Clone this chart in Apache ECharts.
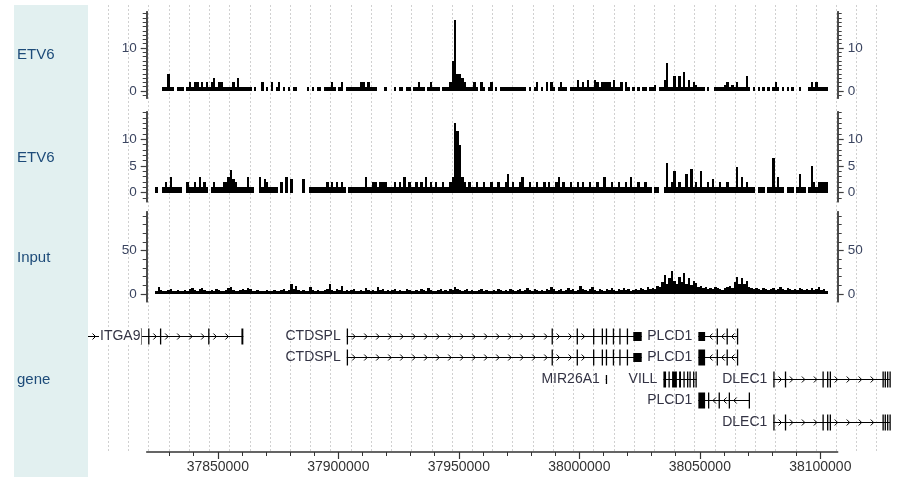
<!DOCTYPE html>
<html><head><meta charset="utf-8">
<script src="https://cdn.jsdelivr.net/npm/echarts@6/dist/echarts.min.js"></script>
<style>html,body{margin:0;padding:0;background:#fff}#chart{width:900px;height:477px}</style>
</head><body><div id="chart"></div>
<script>
// ---------------- data ----------------
const binStart = 37824000;   // genomic start of first bin (bp)
const binSize = 1000;        // bp per bin

const etv6A = [
 0,0,0,1,1,4,1,1,0,1, 1,1,0,1,2,1,2,2,1,2, 1,2,1,2,3,1,2,2,1,1, 1,1,2,1,3,1,1,1,1,1,
 0,1,0,0,2,0,1,0,2,0, 1,2,0,1,0,1,0,1,1,0, 0,0,0,1,0,1,0,1,1,0, 1,1,1,2,1,0,1,2,0,1,
 1,1,1,1,1,2,2,1,2,1, 1,1,0,0,0,1,0,0,0,1, 0,1,1,0,1,1,0,1,1,2, 1,1,0,1,2,1,1,1,0,1,
 1,1,2,7,16.5,4,4,3,2,1, 1,1,2,1,0,2,1,0,1,2, 0,1,0,1,1,1,1,1,1,1, 1,1,1,1,0,1,0,1,2,0,
 1,0,2,0,2,1,0,1,2,1, 1,0,1,1,1,2.5,1,2,1,2.5, 1,1,2.5,2,1,2,2,2,2,1, 2.5,1,1,2,0,2,1,0,1,0,
 1,0,1,1,0,1,1,1.5,0,1, 1,2.5,6.5,1,1,3.5,1,3.5,1,4.5, 1,2.5,1,2,1.5,1,1,1,0,1, 0,0,1,1,1,1,1.5,2,1,1.5,
 1,2,1,1,1,3.5,1,0,1,0, 1,0,1,0,1,0,1,2,1,0, 1,0,1,0,1,0,0,1,0,0, 0,1,2,1,2,1,1,1,1
];
const etv6B = [
 1,0,0,1,2,1,3,1,1,1, 1,0,0,2,1,1,2,1,3,1, 2,1,0,1,2,1,1,1,2,2, 3,4.2,2.5,2,1,1,1,1,3,1,
 1,0,0,3,1,2.5,2,1,1,1, 1,0,2,0,3,0,2.5,0,0,0, 0,2.5,0,0,1,1,1,1,1,1, 1,2,1,2,1,2,1,2,1,0,
 1,1,1,1,1,1,1,3,1,1, 2,2,1,2,2,2,1,1,1,2, 1,2,1,3,1,2,1,1,2,1, 2,1,3,1,2,1,2,1,1,2,
 1,1,2,3,13,11.5,9,3,2,1, 2,1,1,2,1,1,2,1,1,2, 1,1,2,1,1,2,3.5,1,2,1, 1,2,3,1,1,2,1,1,2,1,
 1,2,1,2,1,1,2,3,1,2, 1,1,2,1,1,2,1,2,1,1, 2,1,1,2,1,1,3,1,1,2, 1,1,2,1,1,2,1,3,1,1,
 2,1,1,2,1,1,0,1,1,0, 0,1,5.5,1,2,4,1,2,1,1, 3.5,1,4.5,1,2,1,4,1,1,2, 1,2.5,1,1,2,1,1,2,1,1,
 1,4.8,1,3,1,2,1,1,1,0, 1,1,1,0,1,1,6.5,1,3,1, 1,0,1,1,1,0,1,3.5,1,1, 0,1,5,2,1,2,2,2,2
];
const inputSignal = [
 4,8,5,3,4,5,6,4,3,5, 4,3,5,4,6,7,5,4,6,7, 5,4,3,5,4,6,5,4,3,5, 7,8,5,4,3,5,6,5,7,6,
 4,3,5,4,3,4,5,3,4,5, 4,3,5,6,4,5,11,6,9,5, 4,5,3,4,8,5,4,5,3,4, 5,6,11,5,4,6,5,9,4,5,
 4,5,6,4,3,5,4,7,5,4, 5,4,8,5,6,4,5,4,5,6, 4,5,3,4,6,5,4,3,5,4, 6,5,4,7,5,4,3,5,6,4,
 5,4,6,5,8,6,5,4,5,6, 4,5,3,4,5,6,4,5,4,3, 5,4,6,5,4,5,4,6,5,4, 5,6,4,5,7,5,4,6,5,4,
 5,4,6,5,8,6,4,5,6,4, 5,7,5,6,4,5,9,6,5,4, 6,8,5,4,6,5,4,6,5,7, 5,4,6,5,7,5,6,4,5,6,
 5,7,6,5,8,6,7,6,9,8, 14,22,12,18,26,15,12,20,14,24, 12,18,10,15,13,8,9,7,8,6, 7,6,8,7,6,5,7,8,9,7,
 14,20,12,18,11,15,8,7,6,7, 6,5,7,6,5,6,7,5,6,8, 6,5,7,6,5,6,5,7,6,5, 6,5,7,5,6,8,5,6,4
];

const trackTitles = ['ETV6', 'ETV6', 'Input', 'gene'];

const etv6AMajor = [0, 10];
const etv6AMinor = [-1,1,2,3,4,5,6,7,8,9,11,12,13,14,15,16,17,18];
const etv6BMajor = [0, 5, 10];
const etv6BMinor = [-1,1,2,3,4,6,7,8,9,11,12,13,14,15];
const inputMajor = [0, 50];
const inputMinor = [10,20,30,40,60,70,80,90];

const axisMajor = [37850000, 37900000, 37950000, 38000000, 38050000, 38100000];
const axisMajorLabels = ['37850000', '37900000', '37950000', '38000000', '38050000', '38100000'];
const axisMinor = [37830000,37840000,37860000,37870000,37880000,37890000,37910000,37920000,37930000,37940000,
  37960000,37970000,37980000,37990000,38010000,38020000,38030000,38040000,38060000,38070000,38080000,38090000];

const geneNames   = ['ITGA9','CTDSPL','PLCD1','CTDSPL','PLCD1','MIR26A1','VILL','DLEC1','PLCD1','DLEC1'];
const geneRows    = [0,0,0,1,1,2,2,2,3,4];
const geneStrands = [1,1,-1,1,-1,1,1,1,-1,1];
const geneStarts  = [37790000,37903500,38049400,37903500,38049400,38011000,38034900,38080500,38049400,38080500];
const geneEnds    = [37860600,38025900,38065600,38025900,38065600,38011200,38048700,38128900,38070500,38128900];
const ctdsplExons = [[37903500,37903900,'cds'],[37988500,37988700,'cds'],[37998900,37999100,'cds'],[38005700,38005900,'cds'],
  [38009300,38009500,'cds'],[38011000,38011200,'cds'],[38013900,38014100,'cds'],[38016600,38016800,'cds'],
  [38019700,38019900,'cds'],[38022400,38025900,'utr']];
const dlec1Exons = [[38080500,38080800,'cds'],[38085300,38085500,'cds'],[38100900,38101100,'cds'],[38102800,38103000,'cds'],
  [38103900,38104100,'cds'],[38125800,38126000,'cds'],[38126700,38126900,'cds'],[38127700,38127900,'cds'],[38128700,38128900,'cds']];
const geneExons = [
  [[37818000,37818300,'cds'],[37821100,37821400,'cds'],[37826000,37826300,'cds'],[37846000,37846300,'cds'],[37859800,37860600,'cds']],
  ctdsplExons,
  [[38049400,38052200,'utr'],[38057000,38057200,'cds'],[38061100,38061300,'cds'],[38065400,38065600,'cds']],
  ctdsplExons,
  [[38049400,38052200,'cds'],[38057000,38057200,'cds'],[38061100,38061300,'cds'],[38065400,38065600,'cds']],
  [[38011000,38011200,'utr']],
  [[38034900,38036000,'cds'],[38037000,38037400,'cds'],[38038500,38040500,'cds'],[38041400,38042200,'cds'],[38043200,38043600,'cds'],
   [38044700,38045100,'cds'],[38045700,38046100,'cds'],[38047200,38047600,'cds'],[38048200,38048700,'cds']],
  dlec1Exons,
  [[38049400,38052200,'cds'],[38053400,38053600,'cds'],[38057800,38058000,'cds'],[38062000,38062200,'cds'],[38070300,38070500,'cds']],
  dlec1Exons
];

// ---------------- layout ----------------
const FONT = '"Liberation Sans", Arial, Helvetica, sans-serif';
const viewStart = 37796972, viewEnd = 38130997;   // full panel (x 90..895)
const axisStart = 37820497, axisEnd = 38107221;   // axis span (x 146.7..837.7)
const AX_LEFT = 146.7, AX_W = 691;
const axisColor = '#404040';
const tickLabelColor = '#3b4560';

function barRenderer(params, api) {
  const x0 = api.value(0), v = api.value(1);
  const p0 = api.coord([x0, 0]);
  const p1 = api.coord([x0 + binSize, v]);
  const xa = Math.round(p0[0]), xb = Math.round(p1[0]);
  const yb = Math.round(p0[1]), yt = Math.round(p1[1]);
  return {type: 'rect', shape: {x: xa, y: yt, width: Math.max(1, xb - xa), height: Math.max(1, yb - yt)},
          style: {fill: '#000'}};
}
function binData(arr) {
  const out = [];
  arr.forEach((v, i) => { if (v > 0) out.push([binStart + i * binSize, v]); });
  return out;
}
function yAxesFor(grid, min, max, majors, minors) {
  const base = {type: 'value', gridIndex: grid, min: min, max: max, splitLine: {show: false},
    axisLine: {show: true, onZero: false, lineStyle: {color: axisColor, width: 1.5}}};
  const mk = (pos) => [
    Object.assign({}, base, {position: pos,
      axisTick: {show: true, customValues: majors, length: 6, lineStyle: {color: axisColor, width: 1.2}},
      axisLabel: {show: true, customValues: majors, margin: 10, fontSize: 13.5, color: tickLabelColor, fontFamily: FONT}}),
    Object.assign({}, base, {position: pos,
      axisTick: {show: true, customValues: minors, length: 4, lineStyle: {color: axisColor, width: 1}},
      axisLabel: {show: false}})
  ];
  return mk('left').concat(mk('right'));
}

function geneRenderer(params, api) {
  const idx = api.value(2);
  const row = geneRows[idx];
  const left = params.coordSys.x;
  const yRaw = api.coord([geneStarts[idx], row])[1];
  const y = Math.round(yRaw) + 0.5;
  let x0 = api.coord([geneStarts[idx], row])[0];
  const x1 = api.coord([geneEnds[idx], row])[0];
  const clipped = x0 < left;
  if (clipped) x0 = left - 2;
  const children = [];
  children.push({type: 'line', shape: {x1: x0, y1: y, x2: x1, y2: y}, style: {stroke: '#000', lineWidth: 1}});
  const ex = geneExons[idx].map(e => [api.coord([e[0], row])[0], api.coord([e[1], row])[0], e[2]]);
  const gaps = [];
  let prev = x0;
  ex.forEach(e => { gaps.push([prev, e[0]]); prev = Math.max(prev, e[1]); });
  gaps.push([prev, x1]);
  const s = geneStrands[idx];
  gaps.forEach(g => {
    if (g[1] - g[0] < 8) return;
    for (let cx = g[0] + 6; cx < g[1] - 3; cx += 12) {
      const pts = s > 0 ? [[cx - 1.5, y - 3], [cx + 1.5, y], [cx - 1.5, y + 3]]
                        : [[cx + 1.5, y - 3], [cx - 1.5, y], [cx + 1.5, y + 3]];
      children.push({type: 'polyline', shape: {points: pts}, style: {stroke: '#000', fill: null, lineWidth: 1}});
    }
  });
  ex.forEach(e => {
    const h = e[2] === 'cds' ? 16 : 9;
    const w = Math.max(e[1] - e[0], 1.3);
    children.push({type: 'rect', shape: {x: e[0], y: y - h / 2, width: w, height: h}, style: {fill: '#000'}});
  });
  const label = clipped
    ? {type: 'text', style: {text: geneNames[idx], x: left + 9, y: y, align: 'left', verticalAlign: 'middle',
        fill: '#333344', fontSize: 14, fontFamily: FONT, backgroundColor: '#fff', padding: [1, 1]}}
    : {type: 'text', style: {text: geneNames[idx], x: x0 - 6, y: y, align: 'right', verticalAlign: 'middle',
        fill: '#333344', fontSize: 14, fontFamily: FONT}};
  children.push(label);
  return {type: 'group', children: children};
}

const chart = echarts.init(document.getElementById('chart'), null, {renderer: 'canvas'});
const gridBase = {containLabel: false, outerBoundsMode: 'none'};
const option = {
  animation: false,
  backgroundColor: '#fff',
  textStyle: {fontFamily: FONT},
  graphic: [
    {type: 'rect', shape: {x: 14, y: 5, width: 74, height: 472}, style: {fill: '#e2f0f0'}, z: -10},
    {type: 'text', x: 17, y: 55, style: {text: trackTitles[0], fontSize: 15, fill: '#1d4b79', verticalAlign: 'middle', fontFamily: FONT}},
    {type: 'text', x: 17, y: 158, style: {text: trackTitles[1], fontSize: 15, fill: '#1d4b79', verticalAlign: 'middle', fontFamily: FONT}},
    {type: 'text', x: 17, y: 258, style: {text: trackTitles[2], fontSize: 15, fill: '#1d4b79', verticalAlign: 'middle', fontFamily: FONT}},
    {type: 'text', x: 17, y: 380, style: {text: trackTitles[3], fontSize: 15, fill: '#1d4b79', verticalAlign: 'middle', fontFamily: FONT}}
  ],
  grid: [
    Object.assign({left: AX_LEFT, width: AX_W, top: 11.7, height: 86.6}, gridBase),
    Object.assign({left: AX_LEFT, width: AX_W, top: 111.7, height: 90}, gridBase),
    Object.assign({left: AX_LEFT, width: AX_W, top: 211.7, height: 90}, gridBase),
    Object.assign({left: 90, width: 805, top: 324.75, height: 107.5}, gridBase),
    Object.assign({left: AX_LEFT, width: AX_W, top: 438, height: 14}, gridBase),
    Object.assign({left: 108.3, width: 768.4, top: 5, height: 446}, gridBase)
  ],
  xAxis: [
    {type: 'value', gridIndex: 0, min: axisStart, max: axisEnd, show: false},
    {type: 'value', gridIndex: 1, min: axisStart, max: axisEnd, show: false},
    {type: 'value', gridIndex: 2, min: axisStart, max: axisEnd, show: false},
    {type: 'value', gridIndex: 3, min: viewStart, max: viewEnd, show: false},
    {type: 'value', gridIndex: 4, min: axisStart, max: axisEnd, position: 'bottom', splitLine: {show: false},
      axisLine: {show: true, onZero: false, lineStyle: {color: '#333', width: 1.5}},
      axisTick: {show: true, customValues: axisMajor, length: 7, lineStyle: {color: '#333', width: 1.2}},
      axisLabel: {show: true, customValues: axisMajor, margin: 8, fontSize: 14, color: '#333', fontFamily: FONT,
        formatter: v => axisMajorLabels[axisMajor.indexOf(v)] || String(v)}},
    {type: 'value', gridIndex: 4, min: axisStart, max: axisEnd, position: 'bottom', splitLine: {show: false},
      axisLine: {show: false, onZero: false},
      axisTick: {show: true, customValues: axisMinor, length: 4, lineStyle: {color: '#333', width: 1}},
      axisLabel: {show: false}},
    {type: 'value', gridIndex: 5, min: 0, max: 38, interval: 1, axisLine: {show: false}, axisTick: {show: false},
      axisLabel: {show: false}, splitLine: {show: true, lineStyle: {color: '#d0d0d0', type: [2, 2], width: 1}}}
  ],
  yAxis: [].concat(
    yAxesFor(0, -1.70, 18.44, etv6AMajor, etv6AMinor),
    yAxesFor(1, -1.69, 15.17, etv6BMajor, etv6BMinor),
    yAxesFor(2, -8.9, 95, inputMajor, inputMinor),
    [{type: 'value', gridIndex: 3, min: -0.5, max: 4.5, inverse: true, show: false},
     {type: 'value', gridIndex: 4, min: 0, max: 1, show: false},
     {type: 'value', gridIndex: 5, min: 0, max: 1, show: false, splitLine: {show: false}}]
  ),
  series: [
    {type: 'custom', xAxisIndex: 0, yAxisIndex: 0, renderItem: barRenderer, data: binData(etv6A), z: 3},
    {type: 'custom', xAxisIndex: 1, yAxisIndex: 4, renderItem: barRenderer, data: binData(etv6B), z: 3},
    {type: 'custom', xAxisIndex: 2, yAxisIndex: 8, renderItem: barRenderer, data: binData(inputSignal), z: 3},
    {type: 'custom', xAxisIndex: 3, yAxisIndex: 12, renderItem: geneRenderer, z: 3,
      data: geneNames.map((n, i) => [geneStarts[i], geneRows[i], i])}
  ]
};
chart.setOption(option);
</script>
</body></html>
